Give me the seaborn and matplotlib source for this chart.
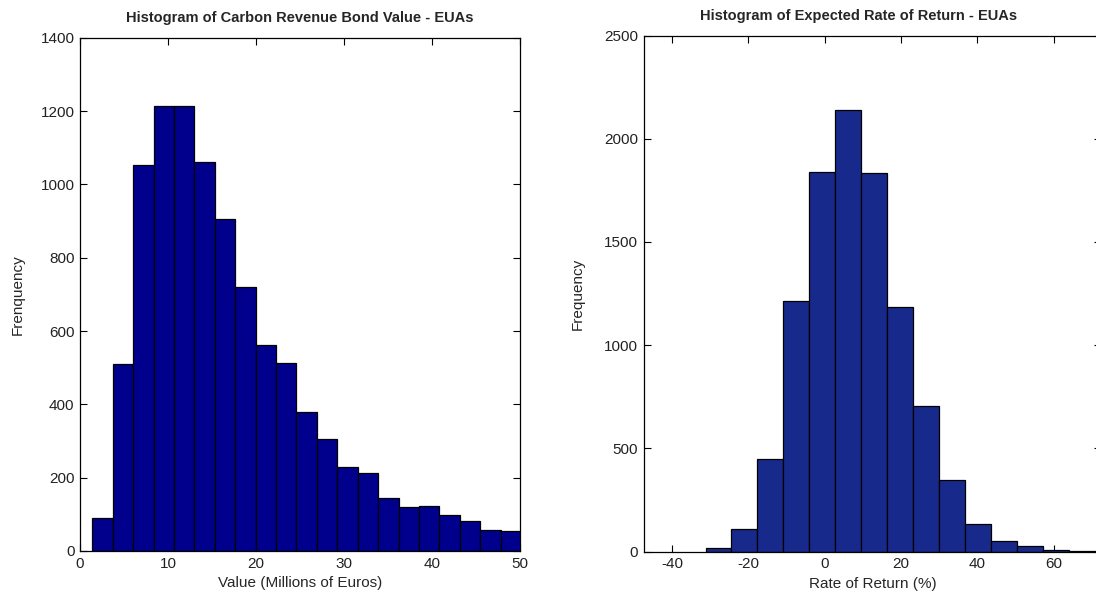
import matplotlib
matplotlib.use("Agg")
import matplotlib.pyplot as plt
import seaborn as sns
import numpy as np

# ---- data ----
bond_edges = [1.40, 3.72, 6.04, 8.36, 10.68, 13.00, 15.32, 17.64, 19.96, 22.28,
              24.60, 26.92, 29.24, 31.56, 33.88, 36.20, 38.52, 40.84, 43.16,
              45.48, 47.80, 50.12]
bond_counts = [89, 511, 1053, 1215, 1215, 1062, 906, 719, 563, 514, 380,
               306, 230, 212, 145, 121, 124, 99, 82, 58, 54]

ret_edges = [-31.2, -24.4, -17.6, -10.8, -4.0, 2.8, 9.6, 16.4, 23.2, 30.0,
             36.8, 43.6, 50.4, 57.2, 64.0, 70.8, 77.6]
ret_counts = [16, 111, 448, 1215, 1839, 2139, 1832, 1184, 706, 348, 134,
              50, 25, 6, 4, 2]

left_xticks = [0, 10, 20, 30, 40, 50]
left_yticks = [0, 200, 400, 600, 800, 1000, 1200, 1400]
right_xticks = [-40, -20, 0, 20, 40, 60]
right_yticks = [0, 500, 1000, 1500, 2000, 2500]

sns.set_theme(style="white")
plt.rcParams["font.family"] = ["Liberation Sans", "DejaVu Sans"]
plt.rcParams["axes.unicode_minus"] = False

W, H = 1096, 598
fig = plt.figure(figsize=(W / 100, H / 100), dpi=100)

ax1 = fig.add_axes([80 / W, (H - 551) / H, 440 / W, (551 - 37.7) / H])
ax2 = fig.add_axes([643.7 / W, (H - 551.5) / H, 457.3 / W, (551.5 - 35.5) / H])

def centers(edges):
    e = np.asarray(edges, dtype=float)
    return (e[:-1] + e[1:]) / 2

sns.histplot(x=centers(bond_edges), weights=bond_counts, bins=bond_edges,
             color="#00008C", alpha=1.0, edgecolor="black", linewidth=0.9,
             ax=ax1)
sns.histplot(x=centers(ret_edges), weights=ret_counts, bins=ret_edges,
             color="#172A8C", alpha=1.0, edgecolor="black", linewidth=0.9,
             ax=ax2)

fs = 11
ax1.set_xlim(0, 50)
ax1.set_ylim(0, 1400)
ax1.set_xticks(left_xticks)
ax1.set_yticks(left_yticks)
ax1.set_title("Histogram of Carbon Revenue Bond Value - EUAs",
              fontsize=10.5, fontweight="bold", pad=11)
ax1.set_xlabel("Value (Millions of Euros)", fontsize=fs, labelpad=4)
ax1.set_ylabel("Frenquency", fontsize=fs, labelpad=11)

ax2.set_xlim(-47.4, 72.4)
ax2.set_ylim(0, 2500)
ax2.set_xticks(right_xticks)
ax2.set_yticks(right_yticks)
ax2.set_title("Histogram of Expected Rate of Return - EUAs",
              fontsize=10.5, fontweight="bold", pad=11, x=0.47)
ax2.set_xlabel("Rate of Return (%)", fontsize=fs, labelpad=4)
ax2.set_ylabel("Frequency", fontsize=fs, labelpad=14)

for ax in (ax1, ax2):
    ax.tick_params(direction="in", length=5, width=0.8, top=True, right=True,
                   bottom=True, left=True, labelsize=fs, pad=4,
                   colors="black", labelcolor="#222222")
    for s in ax.spines.values():
        s.set_color("black")
        s.set_linewidth(0.9)
        s.set_visible(True)
    ax.grid(False)

fig.savefig("out.png", dpi=100)
